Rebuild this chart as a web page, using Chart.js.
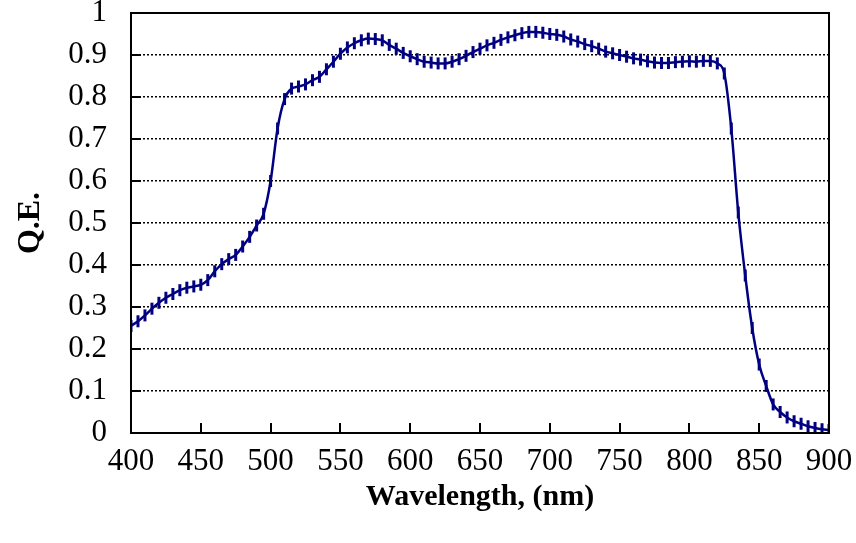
<!DOCTYPE html>
<html>
<head>
<meta charset="utf-8">
<script src="https://cdn.jsdelivr.net/npm/chart.js@4"></script>
<style>
  html, body { margin: 0; padding: 0; background: #fff; }
  #wrap { width: 856px; height: 543px; }
</style>
</head>
<body>
<div id="wrap"><canvas id="qe" width="856" height="543"></canvas></div>
<script>
// ── QE curve samples (every 5 nm) ──────────────────────────────
const WAVELENGTHS = [
  400, 405, 410, 415, 420, 425, 430, 435, 440, 445,
  450, 455, 460, 465, 470, 475, 480, 485, 490, 495,
  500, 505, 510, 515, 520, 525, 530, 535, 540, 545,
  550, 555, 560, 565, 570, 575, 580, 585, 590, 595,
  600, 605, 610, 615, 620, 625, 630, 635, 640, 645,
  650, 655, 660, 665, 670, 675, 680, 685, 690, 695,
  700, 705, 710, 715, 720, 725, 730, 735, 740, 745,
  750, 755, 760, 765, 770, 775, 780, 785, 790, 795,
  800, 805, 810, 815, 820, 825, 830, 835, 840, 845,
  850, 855, 860, 865, 870, 875, 880, 885, 890, 895,
  900,
];

const QE = [
  0.255, 0.266, 0.280, 0.296, 0.310, 0.322, 0.331, 0.340, 0.346, 0.349,
  0.353, 0.364, 0.385, 0.402, 0.414, 0.424, 0.444, 0.467, 0.494, 0.522,
  0.600, 0.725, 0.795, 0.820, 0.825, 0.830, 0.840, 0.848, 0.866, 0.884,
  0.903, 0.918, 0.928, 0.935, 0.939, 0.938, 0.935, 0.924, 0.915, 0.905,
  0.897, 0.890, 0.884, 0.882, 0.880, 0.880, 0.884, 0.890, 0.898, 0.907,
  0.915, 0.923, 0.929, 0.936, 0.942, 0.947, 0.952, 0.955, 0.955, 0.953,
  0.950, 0.948, 0.944, 0.937, 0.932, 0.926, 0.921, 0.915, 0.908, 0.904,
  0.900, 0.896, 0.892, 0.889, 0.885, 0.882, 0.881, 0.881, 0.883, 0.884,
  0.885, 0.884, 0.886, 0.886, 0.880, 0.856, 0.725, 0.525, 0.375, 0.250,
  0.163, 0.112, 0.068, 0.050, 0.037, 0.028, 0.022, 0.016, 0.012, 0.009,
  0.007,
];

const X_MIN = 400, X_MAX = 900, X_STEP = 50;
const Y_MIN = 0, Y_MAX = 1, Y_STEP = 0.1;

const LINE_COLOR = '#000080';
const FONT = 'Liberation Serif, "Times New Roman", serif';

// ── Plot frame + inward tick marks ─────────────────────────────
const frameAndTicks = {
  id: 'frameAndTicks',
  afterDatasetsDraw(chart) {
    const { ctx, chartArea: a, scales: { x, y } } = chart;
    const tick = 10;
    ctx.save();
    ctx.setLineDash([]);
    ctx.strokeStyle = '#000';
    ctx.lineWidth = 2;

    ctx.beginPath();
    x.ticks.forEach(t => {
      const px = Math.round(x.getPixelForValue(t.value));
      ctx.moveTo(px, a.bottom);
      ctx.lineTo(px, a.bottom - tick);
    });
    y.ticks.forEach(t => {
      const py = Math.round(y.getPixelForValue(t.value));
      ctx.moveTo(a.left, py);
      ctx.lineTo(a.left + tick, py);
    });
    ctx.stroke();

    ctx.strokeRect(a.left, a.top, a.right - a.left, a.bottom - a.top);
    ctx.restore();
  },
};

new Chart(document.getElementById('qe'), {
  type: 'line',
  data: {
    datasets: [{
      label: 'Q.E.',
      data: WAVELENGTHS.map((w, i) => ({ x: w, y: QE[i] })),
      borderColor: LINE_COLOR,
      borderWidth: 2.5,
      cubicInterpolationMode: 'monotone',
      pointStyle: 'line',
      rotation: 90,
      pointRadius: 6,
      pointBorderWidth: 3,
      pointBorderColor: LINE_COLOR,
      pointBackgroundColor: LINE_COLOR,
      fill: false,
    }],
  },
  options: {
    responsive: false,
    animation: false,
    devicePixelRatio: 1,
    layout: { padding: { top: 13, right: 27, bottom: 0, left: 0 } },
    plugins: {
      legend: { display: false },
      tooltip: { enabled: false },
    },
    scales: {
      x: {
        type: 'linear',
        min: X_MIN,
        max: X_MAX,
        // fixed axis band; end labels are covered by the layout padding
        afterFit: s => { s.height = 110; s.paddingLeft = 0; s.paddingRight = 0; },
        ticks: {
          stepSize: X_STEP,
          color: '#000',
          padding: 10,
          maxRotation: 0,
          font: { family: FONT, size: 31 },
        },
        grid: { display: false, drawTicks: false },
        border: { display: false },
        title: {
          display: true,
          text: 'Wavelength, (nm)',
          color: '#000',
          font: { family: FONT, size: 30, weight: 'bold' },
          padding: { top: 0, bottom: 28 },
        },
      },
      y: {
        min: Y_MIN,
        max: Y_MAX,
        afterFit: s => { s.width = 131; s.paddingTop = 0; s.paddingBottom = 0; },
        ticks: {
          stepSize: Y_STEP,
          color: '#000',
          padding: 24,
          font: { family: FONT, size: 31 },
          callback: v => String(+v.toFixed(1)),
        },
        grid: {
          drawTicks: false,
          lineWidth: 1.5,
          color: c => (c.tick && (c.tick.value <= Y_MIN || c.tick.value >= Y_MAX) ? 'rgba(0,0,0,0)' : '#000'),
        },
        border: { display: false, dash: [2, 2] },
        title: {
          display: true,
          text: 'Q.E.',
          color: '#000',
          font: { family: FONT, size: 32, weight: 'bold' },
          padding: { top: 12, bottom: 0 },
        },
      },
    },
  },
  plugins: [frameAndTicks],
});
</script>
</body>
</html>
